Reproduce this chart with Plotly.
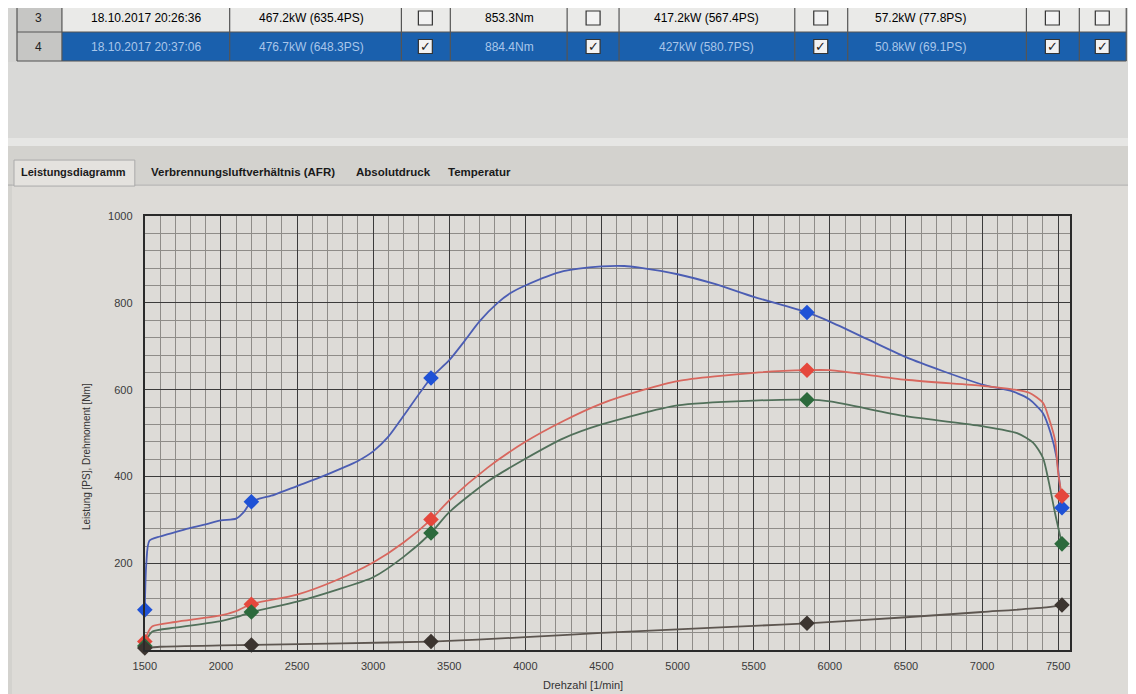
import plotly.graph_objects as go

W, H = 1136, 694

# ---------------- data ----------------
rpm_torque = [1500, 1510, 1530, 1600, 1700, 1800, 1900, 2000, 2100, 2150, 2200, 2350, 2500, 2650, 2800,
              2900, 3000, 3100, 3200, 3380, 3500, 3600, 3700, 3818, 3900, 4000, 4250, 4500, 4650, 4750, 5000, 5250,
              5500, 5850, 6000, 6250, 6500, 6750, 7000, 7200, 7310, 7400, 7450, 7490, 7510, 7525]
torque_nm = [93, 200, 252, 262, 272, 282, 290, 299, 303, 318, 342, 358, 378, 398, 420,
             436, 458, 492, 540, 627, 668, 712, 758, 800, 822, 840, 873, 884, 885, 881, 866, 843,
             814, 778, 757, 716, 675, 642, 612, 596, 578, 546, 501, 443, 383, 328]

rpm_power = [1500, 1520, 1550, 1700, 2000, 2100, 2200, 2500, 2750, 3000, 3200, 3380, 3500, 3750, 4000,
             4250, 4500, 4780, 5000, 5500, 5850, 6000, 6500, 7000, 7200, 7310, 7400, 7440, 7480, 7500, 7525]
power_ps = [20, 40, 55, 65, 80, 90, 106, 128, 160, 202, 248, 301, 345, 420, 480,
            528, 568, 600, 620, 639, 645, 645, 623, 609, 601, 593, 570, 533, 483, 408, 355]

rpm_wheel = [1500, 1520, 1550, 1700, 2000, 2100, 2200, 2500, 2750, 3000, 3200, 3380, 3500, 3750, 4000,
             4250, 4500, 5000, 5500, 5850, 6000, 6500, 7000, 7230, 7335, 7400, 7437, 7480, 7525]
wheel_ps = [10, 30, 43, 52, 67, 76, 88, 112, 138, 168, 215, 270, 318, 388, 441,
            488, 520, 564, 575, 577, 573, 539, 516, 500, 478, 443, 390, 315, 245]

rpm_loss = [1500, 1600, 2000, 2200, 2800, 3380, 4000, 4500, 5000, 5500, 5850, 6500, 7000, 7400, 7525]
loss_ps = [5, 8, 11, 12, 16, 20, 30, 40, 48, 56, 62, 76, 88, 98, 104]

marker_rpm = [1500, 2200, 3380, 5850, 7525]
marker_torque = [93, 342, 627, 778, 328]
marker_power = [20, 106, 301, 645, 355]
marker_wheel = [10, 88, 270, 577, 245]
marker_loss = [5, 12, 20, 62, 104]

x_ticks = [1500, 2000, 2500, 3000, 3500, 4000, 4500, 5000, 5500, 6000, 6500, 7000, 7500]
y_ticks = [200, 400, 600, 800, 1000]

# table (run list)
table_rows = [
    ["3", "18.10.2017 20:26:36", "467.2kW (635.4PS)", "853.3Nm", "417.2kW (567.4PS)", "57.2kW (77.8PS)"],
    ["4", "18.10.2017 20:37:06", "476.7kW (648.3PS)", "884.4Nm", "427kW (580.7PS)", "50.8kW (69.1PS)"],
]
row_checked = [False, True]
tabs = ["Leistungsdiagramm", "Verbrennungsluftverhältnis (AFR)", "Absolutdruck", "Temperatur"]
y_title = "Leistung [PS], Drehmoment [Nm]"
x_title = "Drehzahl [1/min]"

# ---------------- layout helpers ----------------
# compensation for how the page is placed in the screenshot
OX, OY, S = 18.0, 14.0, 0.991

def px(x):
    return ((x - OX) / S) / W

def py(y):
    return 1 - ((y - OY) / S) / H

shapes = []
annotations = []

def rect(x0, y0, x1, y1, fill, line=None, lw=1):
    shapes.append(dict(type="rect", xref="paper", yref="paper",
                       x0=px(x0), x1=px(x1), y0=py(y1), y1=py(y0),
                       fillcolor=fill, line=dict(color=line or fill, width=lw if line else 0),
                       layer="below"))

def line(x0, y0, x1, y1, color, width=1):
    shapes.append(dict(type="line", xref="paper", yref="paper",
                       x0=px(x0), x1=px(x1), y0=py(y0), y1=py(y1),
                       line=dict(color=color, width=width), layer="below"))

def text(x, y, s, size=12, color="#111", xanchor="center", yanchor="middle", angle=0,
         family="Liberation Sans", weight="normal"):
    annotations.append(dict(xref="paper", yref="paper", x=px(x), y=py(y), text=s,
                            showarrow=False, xanchor=xanchor, yanchor=yanchor, textangle=angle,
                            font=dict(size=size, color=color, family=family, weight=weight)))

# background zones
rect(-40, -40, W + 40, 62, "#d4d4d2")
rect(-40, 62, W + 40, 138, "#d9d9d7")
rect(-40, 138, W + 40, 146, "#e6e6e4")
rect(-40, 146, W + 40, H + 40, "#d3d2ce")
rect(10, 184, W + 40, H + 40, "#dddbd7")

# table
col_lines = [15, 60, 228, 400, 449, 566, 618, 794, 847, 1026, 1079, 1126]
row_y = [4, 32, 61]
text_cols = [37, 144, 310, 508, 706, 920]
check_cols = [424, 592, 820, 1052, 1102]
rect(15, -40, 1126, 4, "#e6e6e4")
for r in range(2):
    y0, y1 = row_y[r], row_y[r + 1]
    if row_checked[r]:
        rect(60, y0, 1126, y1, "#1a60ad")
    else:
        rect(60, y0, 1126, y1, "#eaeae8")
    rect(15, y0, 60, y1, "#c6c6c4")
for y in row_y:
    line(15, y, 1126, y, "#555", 1.2)
for x in col_lines:
    line(x, -20, x, 61, "#555", 1.2)
for r, row in enumerate(table_rows):
    yc = (row_y[r] + row_y[r + 1]) / 2
    sel = row_checked[r]
    for c, s in enumerate(row):
        col = "#222" if c == 0 else ("#a9c6ea" if sel else "#000")
        text(text_cols[c], yc, s, size=12, color=col)
    for cx in check_cols:
        rect(cx - 7, yc - 7, cx + 7, yc + 7, "#f2f2f2", "#333", 1.2)
        if sel:
            text(cx, yc, "✓", size=13, color="#222", family="DejaVu Sans")

# tabs
rect(12, 160, 133, 186, "#e4e2de", "#aaa", 1)
line(0, 185, 12, 185, "#aaa", 1)
line(133, 185, W + 40, 185, "#aaa", 1)
tab_x = [72, 241, 392, 478]
tab_sizes = [11, 11.5, 11.5, 11.5]
for tx, t, ts in zip(tab_x, tabs, tab_sizes):
    text(tx, 172, t, size=ts, color="#1a1a1a", weight="bold")

# axis titles
text(84, 456, y_title, size=10, color="#333", angle=-90)
text(582, 693, x_title, size=11, color="#333", yanchor="bottom")

# ---------------- traces ----------------
fig = go.Figure()

series = [
    (rpm_torque, torque_nm, marker_torque, "#4b5db3", "#1f52d6", "Drehmoment"),
    (rpm_power, power_ps, marker_power, "#d8675e", "#e5473c", "Leistung"),
    (rpm_wheel, wheel_ps, marker_wheel, "#51705a", "#2c6a3c", "Radleistung"),
    (rpm_loss, loss_ps, marker_loss, "#5d5650", "#3c3530", "Verlustleistung"),
]
for xs, ys, mk, lc, mc, name in series:
    fig.add_trace(go.Scatter(x=xs, y=ys, mode="lines",
                             line=dict(color=lc, width=1.8, shape="spline", smoothing=0.7),
                             name=name, showlegend=False, cliponaxis=False))
for xs, ys, mk, lc, mc, name in series:
    fig.add_trace(go.Scatter(x=marker_rpm, y=mk, mode="markers",
                             marker=dict(symbol="diamond", size=12, color=mc, line=dict(width=0)),
                             showlegend=False, cliponaxis=False))

fig.update_layout(
    width=W, height=H,
    margin=dict(l=0, r=0, t=0, b=0),
    paper_bgcolor="#d3d2ce",
    plot_bgcolor="#e6e4e0",
    shapes=shapes,
    annotations=annotations,
    xaxis=dict(domain=[px(143), px(1070)], range=[1500, 7580],
               tickmode="array", tickvals=x_ticks, ticktext=[str(v) for v in x_ticks],
               showgrid=True, gridcolor="#3b3b3b", gridwidth=1.4,
               minor=dict(dtick=100, tick0=1500, showgrid=True, gridcolor="#8e8c88", gridwidth=1),
               showline=True, mirror=True, linecolor="#2a2a2a", linewidth=2,
               zeroline=False, ticks="", ticklabelstandoff=5,
               tickfont=dict(size=11, color="#3a3a3a", family="Liberation Sans")),
    yaxis=dict(domain=[py(650), py(216)], range=[0, 1000],
               tickmode="array", tickvals=y_ticks, ticktext=[str(v) for v in y_ticks],
               showgrid=True, gridcolor="#3b3b3b", gridwidth=1.4,
               minor=dict(dtick=40, tick0=0, showgrid=True, gridcolor="#8e8c88", gridwidth=1),
               showline=True, mirror=True, linecolor="#2a2a2a", linewidth=2,
               zeroline=False, ticks="", ticklabelstandoff=8,
               tickfont=dict(size=11, color="#3a3a3a", family="Liberation Sans")),
)

fig.write_html("out.html")
